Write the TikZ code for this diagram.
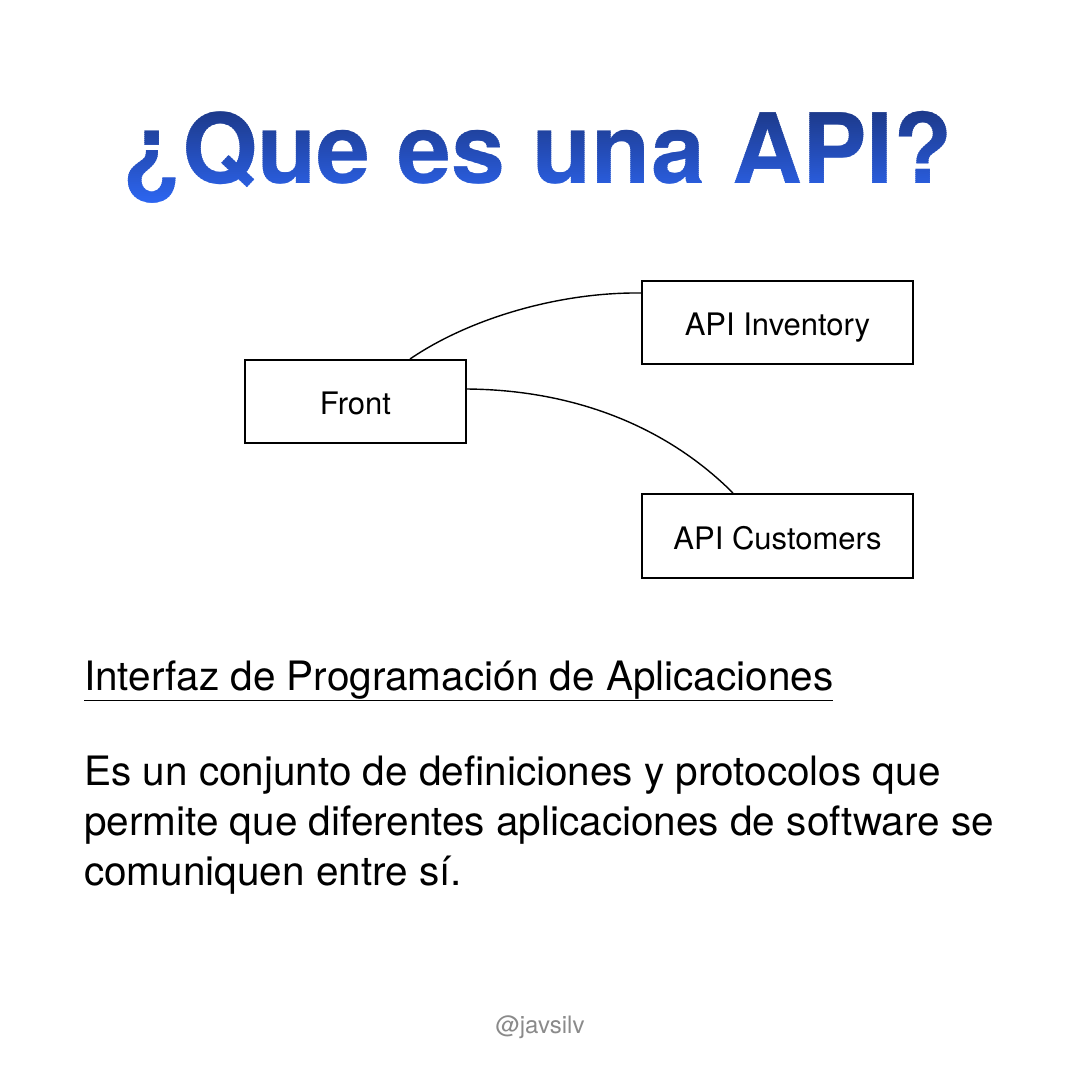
\documentclass[tikz,border=0pt]{standalone}
\usepackage{fontspec}
\setmainfont{TeX Gyre Heros}
\usetikzlibrary{calc}
\definecolor{titletop}{HTML}{1D3A8C}
\definecolor{titlebottom}{HTML}{2D66F2}
\definecolor{handle}{HTML}{8A8A8A}
\tikzset{
  box/.style={draw=black, line width=2pt, rectangle, inner sep=0pt, text height=22pt, text depth=0pt,
    font=\fontsize{31}{36}\selectfont},
  boxlabel/.style={yshift=-2pt},
  link/.style={draw=black, line width=1.4pt},
  body/.style={anchor=base west, inner sep=0pt, font=\fontsize{40.5}{48}\selectfont},
  titletext/.style={anchor=base, inner sep=0pt, font=\fontsize{97}{110}\bfseries\selectfont},
}
\begin{document}
\begin{tikzpicture}[x=1pt,y=-1pt]
  \useasboundingbox[fill=white] (0,0) rectangle (1080,1080);

  % title with a vertical colour gradient, painted strip by strip
  \coordinate (titlebase) at (538,183);
  \foreach \i in {0,...,54} {
    \pgfmathsetmacro{\ystrip}{106+2*\i}
    \pgfmathsetmacro{\mix}{min(100,max(0,(\ystrip-112)/(203-112)*100))}
    \begin{scope}
      \clip (0,\ystrip) rectangle (1080,\ystrip+2.05);
      \node[titletext, text=titlebottom!\mix!titletop] (title\i) at (titlebase) {¿Que es una API?};
    \end{scope}
  }

  % boxes
  \node[box, minimum width=221pt, minimum height=83pt] (front) at (355.5,401.5) {};
  \node[box, minimum width=271pt, minimum height=83pt] (inv) at (777.5,322.5) {};
  \node[box, minimum width=271pt, minimum height=84pt] (cust) at (777.5,536) {};
  \node[box, draw=none, boxlabel] (frontlabel) at (front.center) {Front};
  \node[box, draw=none, boxlabel] (invlabel) at (inv.center) {API Inventory};
  \node[box, draw=none, boxlabel] (custlabel) at (cust.center) {API Customers};

  % connectors
  \coordinate (f1) at ($(front.north west)+(166,0)$);
  \coordinate (i1) at ($(inv.north west)+(0,13)$);
  \draw[link] (f1) .. controls (470,318) and (560,292) .. (i1);
  \coordinate (f2) at ($(front.north east)+(0,30)$);
  \coordinate (c1) at ($(cust.north west)+(92,0)$);
  \draw[link] (f2) .. controls (580,390) and (670,430) .. (c1);

  % body text
  \node[body] (term) at (84,690) {\underline{Interfaz de Programación de Aplicaciones}};
  \node[body] (l1) at (84,785) {Es un conjunto de definiciones y protocolos que};
  \node[body] (l2) at (84,835) {permite que diferentes aplicaciones de software se};
  \node[body] (l3) at (84,885) {comuniquen entre sí.};

  \node[text=handle, font=\fontsize{24}{28}\selectfont] (author) at (540,1027) {@javsilv};
\end{tikzpicture}
\end{document}
